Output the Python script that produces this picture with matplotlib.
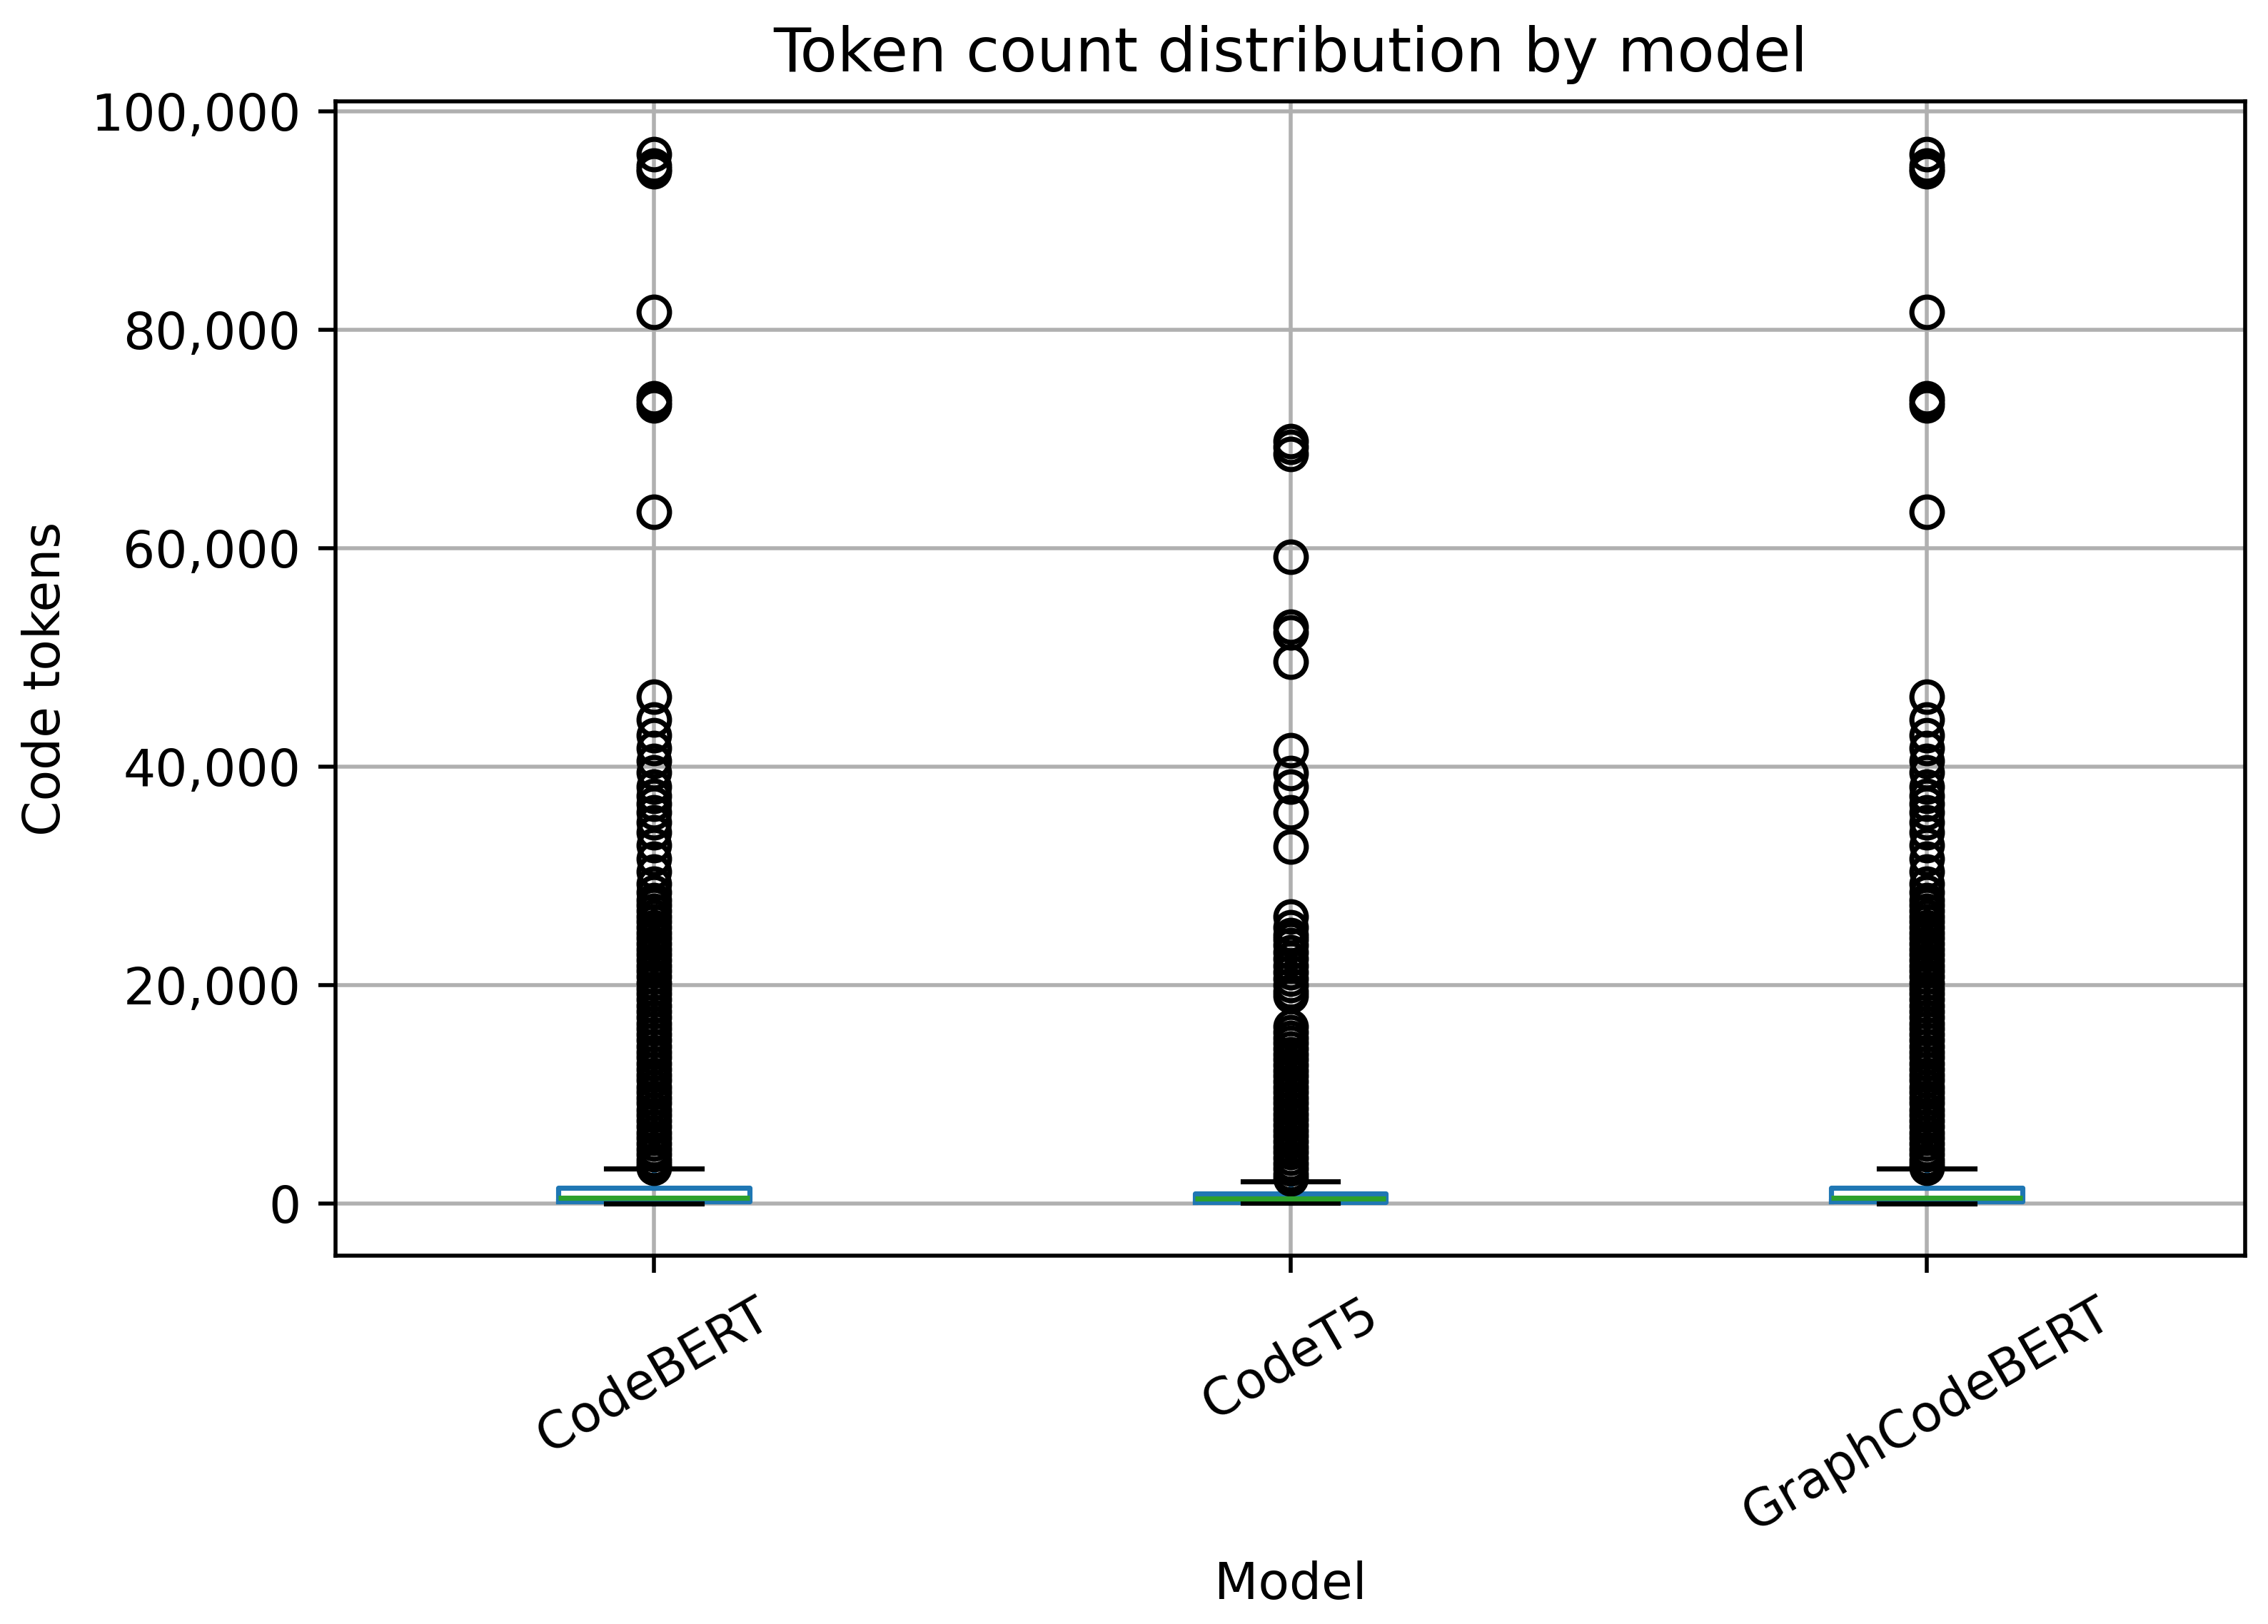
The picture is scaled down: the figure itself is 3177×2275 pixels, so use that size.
import matplotlib
matplotlib.use("Agg")
import matplotlib.pyplot as plt
from matplotlib.ticker import FuncFormatter

models = ["CodeBERT", "CodeT5", "GraphCodeBERT"]

# box statistics (tokens)
whislo = [50, 60, 50]
q1 = [200, 175, 200]
med = [560, 460, 560]
q3 = [1480, 960, 1480]
whishi = [3230, 2070, 3230]

codebert_fliers = [
    96100, 95000, 94700, 94500, 81600, 73700, 73400, 73100, 63300,
    46400, 44300, 42900, 41700, 40500, 39500, 38200, 37300, 36600,
    35800, 34900, 34000, 32800, 31600, 30400, 29300, 28500,
    27800, 27300, 26800, 26300, 25800, 25300, 24800, 24300, 23800, 23300,
    22800, 22300, 21800, 21300, 20800, 20200, 19700, 19200, 18700, 18100,
    17600, 17100, 16500, 16000, 15500, 15000, 14400, 13900, 13400, 12800,
    12300, 11800, 11300, 10700, 10200, 9700, 9200, 8600, 8100, 7600, 7100,
    6500, 6000, 5500, 5000, 4500, 4000, 3600, 3300,
]
codet5_fliers = [
    69800, 69300, 68600, 59200, 52800, 52300, 49600, 41500, 39400, 38200,
    35800, 32700, 26300, 25300, 24600, 24200, 23700, 23000, 22400, 21800,
    21200, 20600, 20000, 19400, 19000, 16200, 15700, 15200, 14700, 14200,
    13700, 13200, 12700, 12200, 11700, 11200, 10700, 10200, 9700, 9200,
    8700, 8200, 7700, 7200, 6700, 6200, 5700, 5200, 4700, 4200, 3700,
    3200, 2700, 2300,
]
graphcodebert_fliers = [
    96100, 95000, 94700, 94500, 81600, 73700, 73400, 73100, 63300,
    46400, 44300, 42900, 41700, 40500, 39500, 38200, 37300, 36600,
    35800, 34900, 34000, 32800, 31600, 30400, 29300, 28500,
    27800, 27300, 26800, 26300, 25800, 25300, 24800, 24300, 23800, 23300,
    22800, 22300, 21800, 21300, 20800, 20200, 19700, 19200, 18700, 18100,
    17600, 17100, 16500, 16000, 15500, 15000, 14400, 13900, 13400, 12800,
    12300, 11800, 11300, 10700, 10200, 9700, 9200, 8600, 8100, 7600, 7100,
    6500, 6000, 5500, 5000, 4500, 4000, 3600, 3300,
]
fliers = [codebert_fliers, codet5_fliers, graphcodebert_fliers]

stats = []
for i, m in enumerate(models):
    stats.append(dict(label=m, whislo=whislo[i], q1=q1[i], med=med[i],
                      q3=q3[i], whishi=whishi[i], fliers=fliers[i]))

W, H, DPI = 3177, 2275, 500
fig = plt.figure(figsize=(W / DPI, H / DPI), dpi=DPI)
ax = fig.add_axes([470 / W, 1 - 1759 / H, (3145 - 470) / W, (1759 - 142) / H])

ax.bxp(stats, positions=[1, 2, 3],
       boxprops=dict(color="C0", linewidth=1.03),
       whiskerprops=dict(color="C0", linewidth=1.03),
       medianprops=dict(color="C2", linewidth=1.03),
       capprops=dict(color="k", linewidth=1.03),
       flierprops=dict(marker="o", markersize=6.15, markeredgewidth=1.03,
                       markerfacecolor="none", markeredgecolor="k"))

ax.grid(True)
ax.yaxis.set_major_formatter(FuncFormatter(lambda v, p: f"{v:,.0f}"))
ax.set_xticks([1, 2, 3])
ax.set_xticklabels(models, rotation=30)
ax.tick_params(labelsize=10.26)
ax.set_title("Token count distribution by model", fontsize=12.3)
ax.set_xlabel("Model", fontsize=10.26)
ax.set_ylabel("Code tokens", fontsize=10.26)

fig.savefig("out.png", dpi=DPI)
